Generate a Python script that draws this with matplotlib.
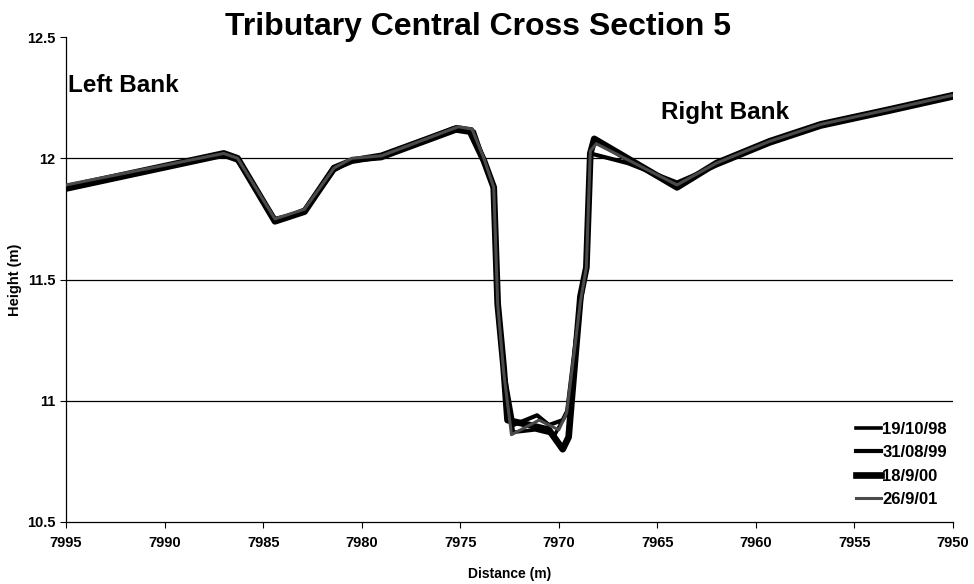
import matplotlib
matplotlib.use("Agg")
import matplotlib.pyplot as plt

plt.rcParams['font.family'] = ['Liberation Sans', 'DejaVu Sans']

title = "Tributary Central Cross Section 5"
labels = ["19/10/98", "31/08/99", "18/9/00", "26/9/01"]

x_1998 = [7995, 7987, 7986.3, 7984.4, 7982.9, 7981.4, 7980.5, 7979, 7975.2, 7974.4, 7973.8, 7973.3,
          7973.1, 7972.8, 7972.3, 7971.2, 7970.2, 7969.6, 7968.9, 7968.6, 7968.4, 7968.1, 7964, 7962,
          7959.3, 7956.7, 7953.3, 7950]
y_1998 = [11.88, 12.02, 12.0, 11.74, 11.79, 11.96, 11.99, 12.01, 12.13, 12.12, 12.0, 11.88,
          11.40, 11.12, 10.87, 10.88, 10.86, 10.95, 11.42, 11.55, 12.03, 12.07, 11.88, 11.98,
          12.07, 12.14, 12.20, 12.26]

x_1999 = [7995, 7987, 7986.3, 7984.4, 7982.9, 7981.4, 7980.5, 7979, 7975.0, 7974.3, 7973.8, 7973.3,
          7973.1, 7972.8, 7972.3, 7971.1, 7970.5, 7969.8, 7969.5, 7968.9, 7968.6, 7968.4, 7966.5, 7964,
          7962, 7959.3, 7956.7, 7953.3, 7950]
y_1999 = [11.87, 12.01, 11.99, 11.75, 11.78, 11.95, 11.99, 12.00, 12.12, 12.11, 11.99, 11.87,
          11.38, 11.13, 10.90, 10.94, 10.90, 10.92, 10.97, 11.40, 11.56, 12.02, 11.98, 11.90,
          11.97, 12.06, 12.13, 12.19, 12.25]

x_2000 = [7995, 7987, 7986.3, 7984.4, 7982.9, 7981.4, 7980.5, 7979, 7975.3, 7974.5, 7973.8, 7973.3,
          7973.1, 7972.8, 7972.6, 7971.5, 7970.5, 7969.8, 7969.5, 7969.4, 7968.9, 7968.6, 7968.4,
          7968.2, 7964, 7962, 7959.3, 7956.7, 7953.3, 7950]
y_2000 = [11.88, 12.02, 12.00, 11.74, 11.78, 11.96, 11.99, 12.01, 12.12, 12.11, 11.99, 11.88,
          11.40, 11.14, 10.92, 10.90, 10.88, 10.80, 10.85, 10.95, 11.43, 11.55, 12.02, 12.08,
          11.88, 11.98, 12.07, 12.14, 12.20, 12.26]

x_2001 = [7995, 7987, 7986.3, 7984.4, 7982.9, 7981.4, 7980.5, 7979, 7975.1, 7974.4, 7973.8, 7973.3,
          7973.1, 7972.8, 7972.4, 7971.0, 7970.0, 7969.6, 7968.9, 7968.6, 7968.4, 7968.1, 7964, 7962,
          7959.3, 7956.7, 7953.3, 7950]
y_2001 = [11.89, 12.02, 12.00, 11.75, 11.79, 11.96, 12.00, 12.01, 12.13, 12.12, 12.00, 11.88,
          11.40, 11.12, 10.86, 10.92, 10.88, 10.95, 11.41, 11.55, 12.03, 12.06, 11.89, 11.98,
          12.07, 12.14, 12.20, 12.26]

x_ticks = [7995, 7990, 7985, 7980, 7975, 7970, 7965, 7960, 7955, 7950]
y_ticks = [10.5, 11, 11.5, 12, 12.5]

fig = plt.figure(figsize=(9.74, 5.84), dpi=100)
ax = fig.add_axes([0.0678, 0.1062, 0.9106, 0.8304])

for yv in [11, 11.5, 12]:
    ax.axhline(yv, color='black', lw=0.9, zorder=1)

ax.plot(x_1998, y_1998, color='black', lw=2.6, label=labels[0], zorder=3, solid_joinstyle='round')
ax.plot(x_1999, y_1999, color='black', lw=3.0, label=labels[1], zorder=3, solid_joinstyle='round')
ax.plot(x_2000, y_2000, color='black', lw=4.8, label=labels[2], zorder=2, solid_joinstyle='round')
ax.plot(x_2001, y_2001, color='#4a4a4a', lw=2.2, label=labels[3], zorder=4, solid_joinstyle='round')

ax.set_xlim(7995, 7950)
ax.set_ylim(10.5, 12.5)
ax.set_xticks(x_ticks)
ax.set_yticks(y_ticks)
ax.set_yticklabels(["10.5", "11", "11.5", "12", "12.5"])
ax.tick_params(axis='both', labelsize=10.5, direction='out', length=4, width=0.8)
for lab in ax.get_xticklabels() + ax.get_yticklabels():
    lab.set_fontweight('bold')
ax.tick_params(axis='x', pad=6)

for s in ['top', 'right']:
    ax.spines[s].set_visible(False)
for s in ['left', 'bottom']:
    ax.spines[s].set_linewidth(0.9)

ax.set_xlabel("Distance (m)", fontsize=10, fontweight='bold', labelpad=12)
ax.set_ylabel("Height (m)", fontsize=10.5, fontweight='bold', labelpad=4)
fig.suptitle(title, fontsize=23, fontweight='bold', x=0.491, y=0.98)

ax.text(7994.9, 12.30, "Left Bank", fontsize=17.5, fontweight='bold', va='center', ha='left')
ax.text(7964.8, 12.19, "Right Bank", fontsize=17.5, fontweight='bold', va='center', ha='left')

leg = ax.legend(loc='lower right', bbox_to_anchor=(1.01, 0.0), frameon=False,
                fontsize=12, handlelength=1.5, handletextpad=0.1, labelspacing=0.5)
for t in leg.get_texts():
    t.set_fontweight('bold')

fig.savefig("out.png", dpi=100)
